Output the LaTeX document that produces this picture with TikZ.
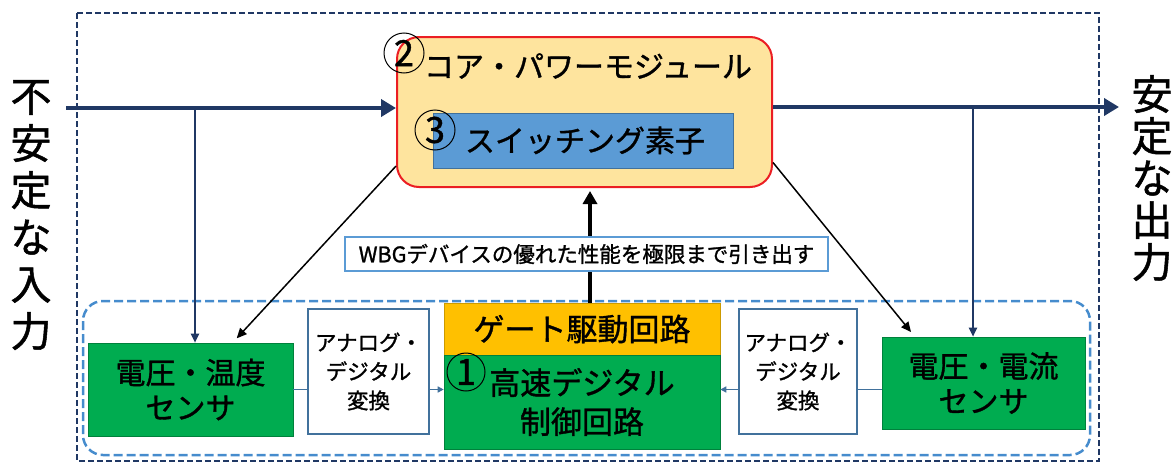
\documentclass[tikz,border=0pt]{standalone}
\usepackage{fontspec}
\newfontfamily\jp[FakeBold=1.2]{Noto Sans CJK JP}
\usetikzlibrary{arrows.meta}
\definecolor{navy}{RGB}{32,56,100}
\definecolor{lblue}{RGB}{70,140,205}
\definecolor{corefill}{RGB}{254,228,158}
\definecolor{corered}{RGB}{235,30,35}
\definecolor{swblue}{RGB}{91,155,213}
\definecolor{swedge}{RGB}{65,113,156}
\definecolor{mygreen}{RGB}{0,172,80}
\definecolor{gateor}{RGB}{255,192,0}
\definecolor{adblue}{RGB}{65,113,156}
\begin{document}
\begin{tikzpicture}[x=1pt,y=-1pt,
  fillbox/.style={rectangle, align=center, inner sep=0pt, line width=0.6pt},
  sensbox/.style={fillbox, fill=mygreen, draw=mygreen!75!black, font={\jp\fontsize{30}{35}\selectfont}},
  adbox/.style={rectangle, fill=white, draw=adblue, line width=1.8pt, align=center, inner sep=0pt,
    minimum width=121pt, minimum height=125pt, font={\jp\fontsize{21.5}{29}\selectfont}},
  numc/.style={circle, draw=black, line width=1pt, minimum size=40pt, inner sep=0pt, font={\jp\fontsize{36}{36}\selectfont}},
  bigarrow/.style={line width=4.5pt, -{Triangle[length=15pt,width=17pt]}},
  brarrow/.style={draw=navy, line width=2pt, -{Triangle[length=9pt,width=8pt]}},
  thinarrow/.style={draw=black, line width=1.5pt, -{Triangle[length=10pt,width=9pt]}},
  adarrow/.style={draw=adblue, line width=1.5pt, -{Triangle[length=6pt,width=6pt]}},
  adline/.style={draw=adblue, line width=1.5pt},
  sidetext/.style={align=center, inner sep=0pt}
]
\useasboundingbox (0,0) rectangle (1174,463);

% outer dashed frame
\draw[navy, line width=2.2pt, dash pattern=on 6pt off 3pt] (77,13) rectangle (1099,461);
% inner light-blue dashed rounded frame
\draw[lblue, line width=2.5pt, dash pattern=on 9pt off 4pt, rounded corners=20pt] (83,301) rectangle (1090,455);

% core power module
\node[rectangle, rounded corners=22pt, fill=corefill, draw=corered, line width=2pt,
      minimum width=375pt, minimum height=150pt] (core) at (584.5,112) {};
\node[font={\jp\fontsize{30}{30}\selectfont}, inner sep=0pt] (coret) at (588,66) {コア・パワーモジュール};
\node[fillbox, fill=swblue, draw=swedge, minimum width=300pt, minimum height=55pt,
      font={\jp\fontsize{30}{30}\selectfont}] (sw) at (583,140.5) {\hspace*{4pt}スイッチング素子};

% lower boxes
\node[sensbox, minimum width=205pt, minimum height=93pt] (sensL) at (190.5,389.5) {電圧・温度\\センサ};
\node[adbox] (adL) at (368.5,371.5) {アナログ・\\デジタル\\変換};
\node[fillbox, fill=gateor, draw=gateor!80!black, minimum width=276pt, minimum height=52pt,
      font={\jp\fontsize{31}{31}\selectfont}] (gate) at (582,329) {ゲート駆動回路};
\node[fillbox, fill=mygreen, draw=mygreen!75!black, minimum width=276pt, minimum height=94pt,
      font={\jp\fontsize{31}{39}\selectfont}] (ctrl) at (582,402) {高速デジタル\\制御回路};
\node[adbox, minimum width=118pt] (adR) at (798,371.5) {アナログ・\\デジタル\\変換};
\node[sensbox, minimum width=203pt, minimum height=92pt] (sensR) at (983.5,383) {電圧・電流\\センサ};

% side texts
\node[sidetext, font={\jp\fontsize{41}{47}\selectfont}] (inT) at (31,215) {不\\安\\定\\な\\入\\力};
\node[sidetext, font={\jp\fontsize{41}{42}\selectfont}] (outT) at (1152,178) {安\\定\\な\\出\\力};

% main input / output arrows
\coordinate (inStart) at (66,108);
\coordinate (outEnd) at (1119,107);
\draw[bigarrow, navy] (inStart) -- (core.west |- inStart);
\draw[bigarrow, navy] (core.east |- outEnd) -- (outEnd);

% sensing branches
\coordinate (bL) at (195,108);
\coordinate (bR) at (973,107);
\draw[brarrow] (bL) -- (bL |- sensL.north);
\draw[brarrow] (bR) -- (bR |- sensR.north);

% thin black arrows from core to sensors
\draw[thinarrow, shorten >=6pt] (core.196) -- (sensL.48);
\draw[thinarrow, shorten >=6pt] (core.345) -- (sensR.146);

% thick arrow from gate drive up to core
\coordinate (gx) at (590,0);
\draw[line width=4pt, -{Triangle[length=13pt,width=14pt]}, shorten >=3pt] (gx |- gate.north) -- (gx |- core.south);

% WBG label
\node[rectangle, fill=white, draw=swblue, line width=2pt, minimum width=483pt, minimum height=34pt,
      inner sep=0pt, font={\jp\fontsize{21.5}{21.5}\selectfont}] (wbg) at (586.5,254) {WBGデバイスの優れた性能を極限まで引き出す};

% sensor -> AD -> control
\draw[adline] (sensL.east) -- (adL.west |- sensL.east);
\draw[adarrow] (adL.east |- sensL.east) -- (ctrl.west |- sensL.east);
\draw[adline] (sensR.west |- sensL.east) -- (adR.east |- sensL.east);
\draw[adarrow] (adR.west |- sensL.east) -- (ctrl.east |- sensL.east);

% numbered circles
\node[numc] (n2) at (404,53) {2};
\node[numc] (n3) at (435,130) {3};
\node[numc, minimum size=38pt] (n1) at (466,372) {1};
\end{tikzpicture}
\end{document}
